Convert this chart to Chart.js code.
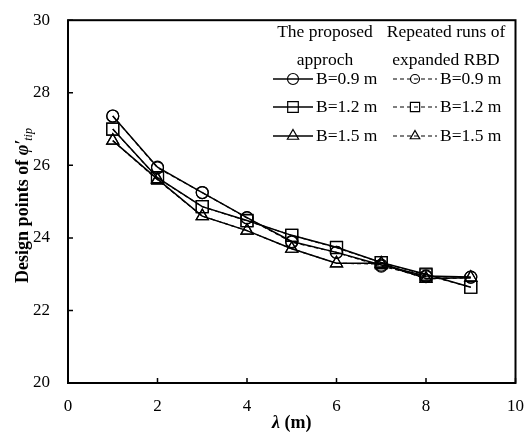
<!DOCTYPE html>
<html>
<head>
<meta charset="utf-8">
<script src="https://cdn.jsdelivr.net/npm/chart.js@4.4.1/dist/chart.umd.min.js"></script>
<style>
  html, body { margin: 0; padding: 0; background: #fff; }
  #wrap { width: 529px; height: 439px; }
</style>
</head>
<body>
<div id="wrap"><canvas id="chart"></canvas></div>
<script>
// lambda (m) on the x axis
const lambda = [1, 2, 3, 4, 5, 6, 7, 8, 9];

// The proposed approach
const prop_09 = [27.36, 25.95, 25.25, 24.56, 23.9, 23.6, 23.25, 22.95, 22.92];
const prop_12 = [27.0, 25.66, 24.86, 24.48, 24.07, 23.74, 23.32, 23.0, 22.64];
const prop_15 = [26.68, 25.62, 24.6, 24.2, 23.7, 23.3, 23.3, 22.88, 22.9];

// Repeated runs of expanded RBD
const rbd_09 = [27.36, 25.93, 25.25, 24.55, 23.88, 23.6, 23.22, 22.93, 22.92];
const rbd_12 = [27.0, 25.65, 24.86, 24.47, 24.07, 23.73, 23.32, 22.98, 22.64];
const rbd_15 = [26.68, 25.6, 24.6, 24.2, 23.7, 23.3, 23.28, 22.87, 22.9];

const xTicks = [0, 2, 4, 6, 8, 10];
const yTicks = [20, 22, 24, 26, 28, 30];
const legendLabels = ['B=0.9 m', 'B=1.2 m', 'B=1.5 m'];

const SERIF = '"Liberation Serif", "Times New Roman", serif';
const styles = ['circle', 'rect', 'triangle'];
const radii = [6, 8.5, 7];

function pts(vals) {
  return lambda.map((x, i) => ({ x: x, y: vals[i] }));
}

function ds(vals, k, dashed) {
  return {
    data: pts(vals),
    borderColor: '#000',
    borderWidth: dashed ? 1.2 : 1.5,
    borderDash: dashed ? [4, 3] : [],
    pointStyle: styles[k],
    pointRadius: radii[k],
    pointBorderWidth: 1.2,
    pointBorderColor: '#000',
    pointBackgroundColor: 'rgba(0,0,0,0)',
    tension: 0,
    fill: false
  };
}

const extras = {
  id: 'extras',
  afterDraw(chart) {
    const ctx = chart.ctx;
    const a = chart.chartArea;
    const xs = chart.scales.x, ys = chart.scales.y;
    ctx.save();
    // frame
    ctx.strokeStyle = '#000';
    ctx.lineWidth = 2;
    ctx.strokeRect(a.left, a.top, a.right - a.left, a.bottom - a.top);
    // inward ticks
    ctx.lineWidth = 1.5;
    ctx.beginPath();
    yTicks.forEach(v => {
      const y = ys.getPixelForValue(v);
      ctx.moveTo(a.left, y); ctx.lineTo(a.left + 5, y);
    });
    xTicks.forEach(v => {
      const x = xs.getPixelForValue(v);
      ctx.moveTo(x, a.bottom); ctx.lineTo(x, a.bottom - 5);
    });
    ctx.stroke();

    ctx.fillStyle = '#000';
    // x title
    ctx.textBaseline = 'middle';
    ctx.textAlign = 'left';
    const cx = (a.left + a.right) / 2;
    ctx.font = 'italic bold 18px ' + SERIF;
    const w1 = ctx.measureText('\u03bb').width;
    ctx.font = 'bold 18px ' + SERIF;
    const w2 = ctx.measureText(' (m)').width;
    let sx = cx - (w1 + w2) / 2;
    ctx.font = 'italic bold 18px ' + SERIF;
    ctx.fillText('\u03bb', sx, 423);
    ctx.font = 'bold 18px ' + SERIF;
    ctx.fillText(' (m)', sx + w1, 423);

    // y title, rotated
    ctx.save();
    ctx.translate(28, 205);
    ctx.rotate(-Math.PI / 2);
    ctx.textBaseline = 'alphabetic';
    const p1 = 'Design points of ';
    ctx.font = 'bold 18px ' + SERIF;
    const a1 = ctx.measureText(p1).width;
    ctx.font = 'italic bold 18px ' + SERIF;
    const a2 = ctx.measureText('\u03c6\u2032').width;
    ctx.font = 'italic 12px ' + SERIF;
    const a3 = ctx.measureText('tip').width;
    let tx = -(a1 + a2 + a3) / 2;
    ctx.font = 'bold 18px ' + SERIF;
    ctx.fillText(p1, tx, 0);
    ctx.font = 'italic bold 18px ' + SERIF;
    ctx.fillText('\u03c6\u2032', tx + a1, 0);
    ctx.font = 'italic 12px ' + SERIF;
    ctx.fillText('tip', tx + a1 + a2 - 1, 4);
    ctx.restore();

    // legend
    ctx.font = '17.5px ' + SERIF;
    ctx.textAlign = 'center';
    ctx.textBaseline = 'middle';
    ctx.fillText('The proposed', 325, 32);
    ctx.fillText('approch', 325, 60);
    ctx.fillText('Repeated runs of', 446, 32);
    ctx.fillText('expanded RBD', 446, 60);
    ctx.textAlign = 'left';
    const rows = [79, 107, 136];
    const legR = [5.5, 7.5, 6.5];
    const legRd = [4.5, 6.5, 5.5];
    rows.forEach((y, k) => {
      ctx.strokeStyle = '#000';
      ctx.setLineDash([]);
      ctx.lineWidth = 1.5;
      ctx.beginPath(); ctx.moveTo(273, y); ctx.lineTo(313, y); ctx.stroke();
      ctx.fillStyle = 'rgba(0,0,0,0)';
      ctx.lineWidth = 1.2;
      Chart.helpers.drawPoint(ctx, { pointStyle: styles[k], radius: legR[k], borderWidth: 1.2, rotation: 0 }, 293, y);
      ctx.setLineDash([4, 3]);
      ctx.lineWidth = 1.2;
      ctx.beginPath(); ctx.moveTo(393, y); ctx.lineTo(437, y); ctx.stroke();
      ctx.setLineDash([]);
      Chart.helpers.drawPoint(ctx, { pointStyle: styles[k], radius: legRd[k], borderWidth: 1.2, rotation: 0 }, 415, y);
      ctx.fillStyle = '#000';
      ctx.fillText(legendLabels[k], 316, y);
      ctx.fillText(legendLabels[k], 440, y);
    });
    ctx.restore();
  }
};

new Chart(document.getElementById('chart'), {
  type: 'line',
  data: {
    datasets: [
      ds(prop_09, 0, false), ds(prop_12, 1, false), ds(prop_15, 2, false),
      ds(rbd_09, 0, true), ds(rbd_12, 1, true), ds(rbd_15, 2, true)
    ]
  },
  options: {
    responsive: true,
    maintainAspectRatio: false,
    animation: false,
    events: [],
    layout: { padding: { top: 12, right: 3, left: 0, bottom: 0 } },
    plugins: { legend: { display: false }, tooltip: { enabled: false } },
    scales: {
      x: {
        type: 'linear', min: 0, max: 10,
        afterBuildTicks: s => { s.ticks = xTicks.map(v => ({ value: v })); },
        afterFit: s => { s.height = 56; },
        grid: { display: false },
        border: { display: false },
        ticks: { color: '#000', font: { family: SERIF, size: 17 }, padding: 5, maxRotation: 0 }
      },
      y: {
        type: 'linear', min: 20, max: 30,
        afterBuildTicks: s => { s.ticks = yTicks.map(v => ({ value: v })); },
        afterFit: s => { s.width = 68; },
        grid: { display: false },
        border: { display: false },
        ticks: { color: '#000', font: { family: SERIF, size: 17 }, padding: 10 }
      }
    }
  },
  plugins: [extras]
});
</script>
</body>
</html>
